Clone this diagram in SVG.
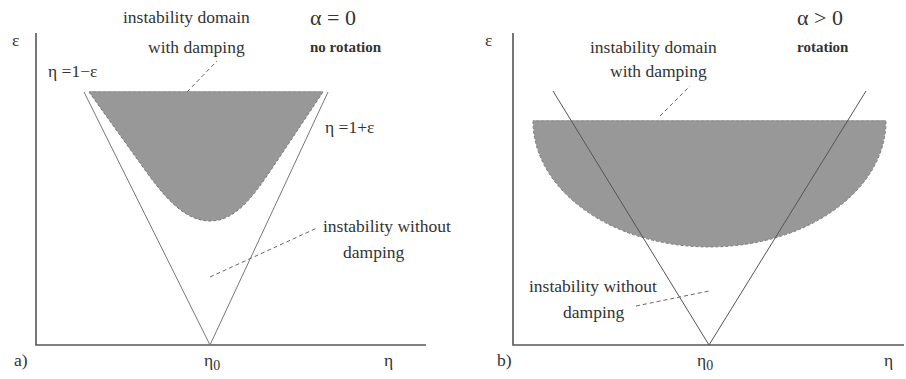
<svg xmlns="http://www.w3.org/2000/svg" width="906" height="379" viewBox="0 0 906 379">
<style>
text{font-family:"Liberation Serif","Times New Roman",serif;fill:#333;font-size:17.5px}
.b{font-weight:bold;font-size:15px}
.big{font-size:22px}
.ax{stroke:#555;stroke-width:1.6;fill:none}
.v{stroke:#777;stroke-width:1;fill:none}
.vd{stroke:#555;stroke-width:1;fill:none}
.dom{fill:#989898;stroke:#777;stroke-width:1;stroke-dasharray:3 2}
.lead{stroke:#666;stroke-width:1;stroke-dasharray:4 3;fill:none}
</style>
<rect width="906" height="379" fill="#fff"/>
<g id="panel-a">
<g id="domain-a"><path class="dom" d="M89,92 L145,170 C165,198 185,221 210,221 C235,221 252,198 271,170 L323,92 Z"/><line x1="89" y1="92" x2="323" y2="92" stroke="#989898" stroke-width="1.5"/></g>
<g id="axes-a"><path class="ax" d="M36,33 V345 H426"/></g>
<g id="vlines-a"><path class="v" d="M84,92 L210,345 L328,92"/></g>
<g id="labels-a">
<text x="123" y="23">instability domain</text>
<text x="148" y="53">with damping</text>
<text class="big" x="310" y="25">α = 0</text>
<text class="b" x="310" y="52">no rotation</text>
<text x="12" y="46">ε</text>
<text x="48" y="77">η =1−ε</text>
<text x="325" y="133">η =1+ε</text>
<text x="323" y="232">instability without</text>
<text x="343" y="258">damping</text>
<text x="14" y="366">a)</text>
<text x="204" y="366">η<tspan font-size="14" dy="4">0</tspan></text>
<text x="384" y="366">η</text>
</g>
</g>
<g id="panel-b">
<g id="domain-b"><path class="dom" d="M533,121 A176.5,126 0 0 0 886,121 Z"/><line x1="533" y1="121" x2="886" y2="121" stroke="#989898" stroke-width="1.5"/></g>
<g id="axes-b"><path class="ax" d="M513,33 V345 H904"/></g>
<g id="vlines-b"><path class="vd" d="M553,91 L709,345 L866,91"/></g>
<g id="labels-b">
<text x="590" y="53">instability domain</text>
<text x="610" y="77">with damping</text>
<text class="big" x="797" y="25">α &gt; 0</text>
<text class="b" x="797" y="52">rotation</text>
<text x="485" y="46">ε</text>
<text x="529" y="292">instability without</text>
<text x="563" y="318">damping</text>
<text x="497" y="366">b)</text>
<text x="697" y="366">η<tspan font-size="14" dy="4">0</tspan></text>
<text x="884" y="366">η</text>
</g>
</g>
<g id="connectors">
<line class="lead" x1="187" y1="92" x2="217" y2="61"/>
<line class="lead" x1="210" y1="277" x2="317" y2="228"/>
<line class="lead" x1="660" y1="116" x2="690" y2="86"/>
<line class="lead" x1="636" y1="306" x2="709" y2="291"/>
</g>
</svg>
